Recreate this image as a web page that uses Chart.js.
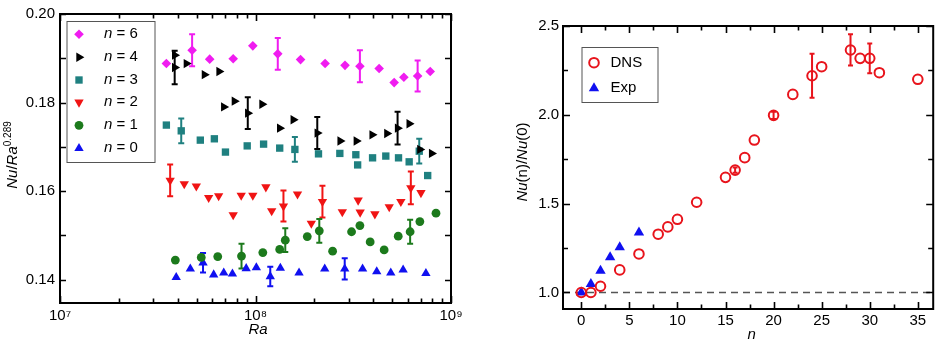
<!DOCTYPE html>
<html><head><meta charset="utf-8">
<script src="https://cdn.jsdelivr.net/npm/chart.js@4.4.1/dist/chart.umd.min.js"></script>
<style>
html,body{margin:0;padding:0;background:#fff;overflow:hidden;}
#wrap{position:relative;width:940px;height:340px;}
canvas{position:absolute;top:0;}
</style></head><body>
<div id="wrap">
<canvas id="left" width="480" height="340" style="left:0;width:480px;height:340px"></canvas>
<canvas id="right" width="460" height="340" style="left:480px;width:460px;height:340px"></canvas>
</div>
<script>
// ---------- Left panel data: Nu/Ra^0.289 vs Ra ----------
const ra_n6  = [3.5e7, 4.74e7, 5.83e7, 7.69e7, 9.69e7, 1.30e8, 1.70e8, 2.27e8, 2.87e8, 3.42e8, 4.29e8, 5.12e8, 5.74e8, 6.75e8, 7.83e8];
const val_n6 = [0.1888, 0.1918, 0.1898, 0.1899, 0.1928, 0.1910, 0.1897, 0.1888, 0.1884, 0.1882, 0.1877, 0.1845, 0.1857, 0.1860, 0.1870];
const err_n6 = [0, 0.0036, 0, 0, 0, 0.0036, 0, 0, 0, 0.0036, 0, 0, 0, 0.0035, 0];

const ra_n4  = [3.86e7, 3.86e7, 4.43e7, 5.48e7, 6.51e7, 6.88e7, 7.80e7, 9.13e7, 1.08e8, 1.33e8, 1.56e8, 2.07e8, 2.71e8, 3.28e8, 3.95e8, 4.70e8, 5.33e8, 6.11e8, 6.93e8, 7.96e8];
const val_n4 = [0.1907, 0.1879, 0.1888, 0.1863, 0.1870, 0.1790, 0.1803, 0.1776, 0.1796, 0.1742, 0.1761, 0.1731, 0.1713, 0.1713, 0.1727, 0.1730, 0.1742, 0.1752, 0.1694, 0.1685];
const err_n4 = [0, 0.0038, 0, 0, 0, 0, 0, 0.0036, 0, 0, 0, 0.0036, 0, 0, 0, 0, 0.0037, 0, 0, 0];

const ra_n3  = [3.5e7, 4.17e7, 5.22e7, 6.16e7, 7.02e7, 9.07e7, 1.10e8, 1.33e8, 1.59e8, 2.10e8, 2.70e8, 3.26e8, 3.33e8, 3.97e8, 4.64e8, 5.39e8, 6.11e8, 6.88e8, 7.60e8];
const val_n3 = [0.1749, 0.1736, 0.1715, 0.1718, 0.1688, 0.1702, 0.1706, 0.1697, 0.1694, 0.1684, 0.1685, 0.1682, 0.1659, 0.1675, 0.1679, 0.1675, 0.1666, 0.1690, 0.1635];
const err_n3 = [0, 0.0028, 0, 0, 0, 0, 0, 0, 0.0028, 0, 0, 0, 0, 0, 0, 0, 0, 0.0028, 0];

const ra_n2  = [3.66e7, 4.32e7, 4.98e7, 5.76e7, 6.48e7, 7.69e7, 8.45e7, 9.69e7, 1.13e8, 1.21e8, 1.39e8, 1.64e8, 1.93e8, 2.20e8, 2.78e8, 3.35e8, 3.43e8, 4.08e8, 4.83e8, 5.54e8, 6.23e8, 7.02e8];
const val_n2 = [0.1624, 0.1616, 0.1611, 0.1585, 0.1589, 0.1546, 0.1590, 0.1590, 0.1609, 0.1555, 0.1566, 0.1593, 0.1527, 0.1576, 0.1553, 0.1579, 0.1552, 0.1548, 0.1564, 0.1576, 0.1607, 0.1596];
const err_n2 = [0.0036, 0, 0, 0, 0, 0, 0, 0, 0, 0, 0.0035, 0, 0, 0.0036, 0, 0, 0, 0, 0, 0, 0.0037, 0];

const ra_n1  = [3.89e7, 5.28e7, 6.41e7, 8.48e7, 1.09e8, 1.33e8, 1.42e8, 1.84e8, 2.12e8, 2.48e8, 3.10e8, 3.42e8, 3.86e8, 4.55e8, 5.37e8, 6.18e8, 6.93e8, 8.38e8];
const val_n1 = [0.1444, 0.1450, 0.1452, 0.1453, 0.1461, 0.1468, 0.1489, 0.1497, 0.1510, 0.1464, 0.1508, 0.1522, 0.1485, 0.1467, 0.1498, 0.1508, 0.1531, 0.1550];
const err_n1 = [0, 0, 0, 0.0028, 0, 0, 0.0027, 0, 0.0027, 0, 0, 0, 0, 0, 0, 0.0027, 0, 0];

const ra_n0  = [3.93e7, 4.64e7, 5.39e7, 6.11e7, 6.88e7, 7.62e7, 8.96e7, 1.01e8, 1.19e8, 1.34e8, 1.67e8, 2.26e8, 2.86e8, 3.53e8, 4.17e8, 4.92e8, 5.69e8, 7.44e8];
const val_n0 = [0.1405, 0.1424, 0.1438, 0.1411, 0.1415, 0.1413, 0.1425, 0.1427, 0.1407, 0.1426, 0.1415, 0.1424, 0.1424, 0.1424, 0.1418, 0.1415, 0.1422, 0.1414];
const err_n0 = [0, 0, 0.0022, 0, 0, 0, 0, 0, 0.0022, 0, 0, 0, 0.0024, 0, 0, 0, 0, 0];

const raTickValues = [1e7, 1e8, 1e9];
const raTickLabels = ['10\u2077', '10\u2078', '10\u2079'];
const leftYTickValues = [0.14, 0.16, 0.18, 0.20];
const leftYTickLabels = ['0.14', '0.16', '0.18', '0.20'];

// ---------- Right panel data: Nu(n)/Nu(0) vs n ----------
const dns_n   = [0, 1, 2, 4, 6, 8, 9, 10, 12, 15, 16, 17, 18, 20, 22, 24, 25, 28, 29, 30, 31, 35];
const dns_val = [1.0, 1.0, 1.035, 1.127, 1.217, 1.328, 1.369, 1.412, 1.508, 1.648, 1.689, 1.759, 1.858, 1.997, 2.115, 2.22, 2.271, 2.365, 2.318, 2.318, 2.237, 2.20];
const dns_err = [0, 0, 0, 0, 0, 0, 0, 0, 0, 0, 0.015, 0, 0, 0.02, 0, 0.124, 0, 0.088, 0, 0.084, 0, 0];
const exp_n   = [0, 1, 2, 3, 4, 6];
const exp_val = [1.0, 1.048, 1.123, 1.198, 1.254, 1.337];

const nTickValues = [0, 5, 10, 15, 20, 25, 30, 35];
const nTickLabels = ['0', '5', '10', '15', '20', '25', '30', '35'];
const rightYTickValues = [1.0, 1.5, 2.0, 2.5];
const rightYTickLabels = ['1.0', '1.5', '2.0', '2.5'];

// ---------- common ----------
const FONT = "'Liberation Sans', Arial, sans-serif";
Chart.defaults.font.family = FONT;
Chart.defaults.font.size = 15;
Chart.defaults.color = '#000';
Chart.defaults.animation = false;

function ds(label, xs, ys, errs, color, style, rot, r, opts) {
  const o = {
    label, data: xs.map((x, i) => ({x, y: ys[i]})), errs, errColor: color,
    pointStyle: style, pointRotation: rot, pointRadius: r, pointHoverRadius: r,
    pointBackgroundColor: color, pointBorderColor: color, pointBorderWidth: 0,
    backgroundColor: color, borderColor: color, showLine: false
  };
  return Object.assign(o, opts || {});
}

const errPlugin = {
  id: 'errbars',
  beforeDatasetsDraw(chart, args, po) {
    const ctx = chart.ctx, xs = chart.scales.x, ys = chart.scales.y;
    chart.data.datasets.forEach(d => {
      if (!d.errs) return;
      ctx.save();
      ctx.strokeStyle = d.errColor; ctx.lineWidth = 2;
      d.data.forEach((p, i) => {
        const e = d.errs[i]; if (!e) return;
        const px = xs.getPixelForValue(p.x);
        const y1 = ys.getPixelForValue(p.y - e), y2 = ys.getPixelForValue(p.y + e);
        ctx.beginPath(); ctx.moveTo(px, y1); ctx.lineTo(px, y2);
        const c = po.cap || 0;
        if (c) { ctx.moveTo(px - c, y1); ctx.lineTo(px + c, y1); ctx.moveTo(px - c, y2); ctx.lineTo(px + c, y2); }
        ctx.stroke();
      });
      ctx.restore();
    });
  }
};

const framePlugin = {
  id: 'frame',
  afterDraw(chart, args, po) {
    const ctx = chart.ctx, a = chart.chartArea, xs = chart.scales.x, ys = chart.scales.y;
    ctx.save();
    ctx.strokeStyle = '#000'; ctx.lineWidth = 1.6;
    po.xTicks.forEach(t => {
      const px = Math.round(xs.getPixelForValue(t.v)) + 0.5;
      ctx.beginPath();
      ctx.moveTo(px, a.bottom); ctx.lineTo(px, a.bottom - t.len);
      ctx.moveTo(px, a.top); ctx.lineTo(px, a.top + t.len);
      ctx.stroke();
    });
    po.yTicks.forEach(t => {
      const py = Math.round(ys.getPixelForValue(t.v)) + 0.5;
      ctx.beginPath();
      ctx.moveTo(a.left, py); ctx.lineTo(a.left + t.len, py);
      ctx.moveTo(a.right, py); ctx.lineTo(a.right - t.len, py);
      ctx.stroke();
    });
    ctx.lineWidth = 2;
    ctx.strokeRect(a.left, a.top, a.right - a.left, a.bottom - a.top);
    ctx.restore();
  }
};

function drawRich(ctx, pieces, cx, cy, rotate, alignLeft) {
  ctx.save();
  ctx.translate(cx, cy);
  if (rotate) ctx.rotate(-Math.PI / 2);
  ctx.textBaseline = 'middle'; ctx.textAlign = 'left'; ctx.fillStyle = '#000';
  let total = 0;
  pieces.forEach(p => { ctx.font = p.f; p.w = ctx.measureText(p.t).width; total += p.w; });
  let x = alignLeft ? 0 : -total / 2;
  pieces.forEach(p => { ctx.font = p.f; ctx.fillText(p.t, x, p.dy || 0); x += p.w; });
  ctx.restore();
}

const textPlugin = {
  id: 'texts',
  afterDraw(chart, args, po) {
    const ctx = chart.ctx;
    (po.items || []).forEach(it => drawRich(ctx, it.pieces, it.x, it.y, it.rotate, false));
    const lg = po.legend;
    if (lg) {
      ctx.save();
      ctx.fillStyle = '#fff'; ctx.strokeStyle = '#555'; ctx.lineWidth = 1;
      ctx.fillRect(lg.box[0], lg.box[1], lg.box[2], lg.box[3]);
      ctx.strokeRect(lg.box[0] + 0.5, lg.box[1] + 0.5, lg.box[2], lg.box[3]);
      chart.data.datasets.forEach((d, i) => {
        const y = lg.rows[i];
        ctx.fillStyle = d.pointBackgroundColor; ctx.strokeStyle = d.pointBorderColor;
        ctx.lineWidth = d.pointBorderWidth;
        Chart.helpers.drawPoint(ctx, {pointStyle: d.pointStyle, rotation: d.pointRotation, radius: d.pointRadius, borderWidth: d.pointBorderWidth}, lg.mx, y);
        drawRich(ctx, lg.label(d), lg.tx, y, false, true);
      });
      ctx.restore();
    }
  }
};

function fixTicks(values) {
  return function (scale) { scale.ticks = values.map(v => ({value: v})); };
}

// ---------- Left chart ----------
const xTicksLeft = [];
[7, 8].forEach(d => { for (let k = 1; k <= 9; k++) xTicksLeft.push({v: k * Math.pow(10, d), len: k === 1 ? 7 : 4.5}); });
xTicksLeft.push({v: 1e9, len: 7});
const yTicksLeft = [0.14, 0.15, 0.16, 0.17, 0.18, 0.19, 0.20].map(v => ({v, len: 6}));

new Chart(document.getElementById('left'), {
  type: 'scatter',
  data: {
    datasets: [
      ds('n = 6', ra_n6, val_n6, err_n6, '#f01cf0', 'rectRot', 0, 4.8),
      ds('n = 4', ra_n4, val_n4, err_n4, '#000000', 'triangle', 90, 5.4),
      ds('n = 3', ra_n3, val_n3, err_n3, '#1f8080', 'rect', 0, 5.2),
      ds('n = 2', ra_n2, val_n2, err_n2, '#f01414', 'triangle', 180, 5.4),
      ds('n = 1', ra_n1, val_n1, err_n1, '#1c7a1c', 'circle', 0, 4.4),
      ds('n = 0', ra_n0, val_n0, err_n0, '#1010f0', 'triangle', 0, 5.4)
    ]
  },
  options: {
    responsive: false, animation: false,
    layout: {padding: {top: 9, right: 29, left: 0, bottom: 0}},
    scales: {
      x: {
        type: 'logarithmic', min: 1e7, max: 1e9,
        afterBuildTicks: fixTicks(raTickValues),
        afterFit: s => { s.height = 37; },
        grid: {display: false, drawTicks: false}, border: {display: false},
        ticks: {padding: 4, autoSkip: false, maxRotation: 0, callback: (v, i) => raTickLabels[i]}
      },
      y: {
        type: 'linear', min: 0.1347, max: 0.20,
        afterBuildTicks: fixTicks(leftYTickValues),
        afterFit: s => { s.width = 60; },
        grid: {display: false, drawTicks: false}, border: {display: false},
        ticks: {padding: 5, autoSkip: false, callback: (v, i) => leftYTickLabels[i]}
      }
    },
    plugins: {
      legend: {display: false}, tooltip: {enabled: false},
      errbars: {cap: 3},
      frame: {xTicks: xTicksLeft, yTicks: yTicksLeft},
      texts: {
        items: [
          {x: 258, y: 330, rotate: false, pieces: [{t: 'Ra', f: 'italic 15px ' + FONT}]},
          {x: 13, y: 155, rotate: true, pieces: [
            {t: 'Nu', f: 'italic 15px ' + FONT}, {t: '/', f: '15px ' + FONT},
            {t: 'Ra', f: 'italic 15px ' + FONT}, {t: '0.289', f: '10px ' + FONT, dy: -5}]}
        ],
        legend: {
          box: [66.5, 21, 88, 141], mx: 79, tx: 104,
          rows: [34.3, 57.3, 80, 102.3, 125.3, 148.3],
          label: d => { const m = d.label.split(' '); return [{t: 'n', f: 'italic 15px ' + FONT}, {t: ' = ' + m[2], f: '15px ' + FONT}]; }
        }
      }
    }
  },
  plugins: [errPlugin, framePlugin, textPlugin]
});

// ---------- Right chart ----------
const xTicksRight = [];
for (let v = 0; v <= 35; v += 2.5) xTicksRight.push({v, len: v % 5 === 0 ? 7 : 4.5});
const yTicksRight = [];
for (let v = 1.0; v <= 2.5001; v += 0.25) yTicksRight.push({v, len: Math.abs(v * 2 - Math.round(v * 2)) < 1e-6 ? 7 : 5});

const dashPlugin = {
  id: 'dashline',
  beforeDatasetsDraw(chart) {
    const ctx = chart.ctx, a = chart.chartArea, py = chart.scales.y.getPixelForValue(1.0);
    ctx.save(); ctx.strokeStyle = '#555'; ctx.lineWidth = 1.5; ctx.setLineDash([7, 5]);
    ctx.beginPath(); ctx.moveTo(a.left, py); ctx.lineTo(a.right, py); ctx.stroke(); ctx.restore();
  }
};

new Chart(document.getElementById('right'), {
  type: 'scatter',
  data: {
    datasets: [
      ds('DNS', dns_n, dns_val, dns_err, '#e8141c', 'circle', 0, 4.8,
         {pointBackgroundColor: 'rgba(0,0,0,0)', backgroundColor: 'rgba(0,0,0,0)', pointBorderWidth: 2}),
      ds('Exp', exp_n, exp_val, null, '#1010f0', 'triangle', 0, 6)
    ]
  },
  options: {
    responsive: false, animation: false,
    layout: {padding: {top: 26, right: 3, left: 0, bottom: 0}},
    scales: {
      x: {
        type: 'linear', min: -1.9, max: 36.6,
        afterBuildTicks: fixTicks(nTickValues),
        afterFit: s => { s.height = 31; },
        grid: {display: false, drawTicks: false}, border: {display: false},
        ticks: {padding: 3, autoSkip: false, maxRotation: 0, callback: (v, i) => nTickLabels[i]}
      },
      y: {
        type: 'linear', min: 0.907, max: 2.5,
        afterBuildTicks: fixTicks(rightYTickValues),
        afterFit: s => { s.width = 83; },
        grid: {display: false, drawTicks: false}, border: {display: false},
        ticks: {padding: 4, autoSkip: false, callback: (v, i) => rightYTickLabels[i]}
      }
    },
    plugins: {
      legend: {display: false}, tooltip: {enabled: false},
      errbars: {cap: 2.5},
      frame: {xTicks: xTicksRight, yTicks: yTicksRight},
      texts: {
        items: [
          {x: 271.7, y: 335, rotate: false, pieces: [{t: 'n', f: 'italic 15px ' + FONT}]},
          {x: 43, y: 162, rotate: true, pieces: [
            {t: 'Nu', f: 'italic 15px ' + FONT}, {t: '(n)/', f: '15px ' + FONT},
            {t: 'Nu', f: 'italic 15px ' + FONT}, {t: '(0)', f: '15px ' + FONT}]}
        ],
        legend: {
          box: [101.5, 47, 76, 55], mx: 114, tx: 130.5,
          rows: [62.7, 88.3],
          label: d => [{t: d.label, f: '15px ' + FONT}]
        }
      }
    }
  },
  plugins: [dashPlugin, errPlugin, framePlugin, textPlugin]
});
</script>
</body></html>
